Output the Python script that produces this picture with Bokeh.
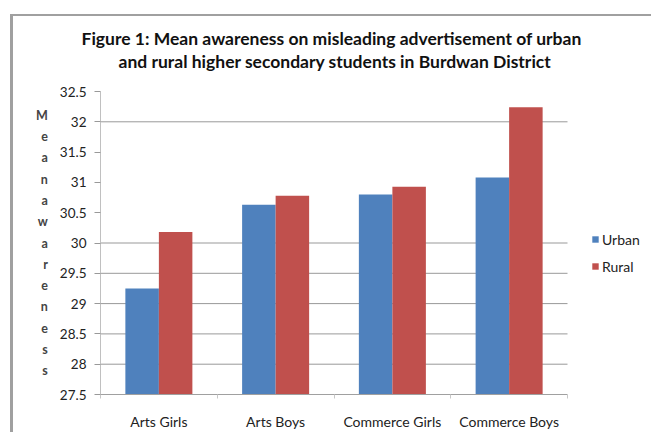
from bokeh.plotting import figure
from bokeh.models import ColumnDataSource, Range1d, FixedTicker, Legend, LegendItem, Title
from bokeh.embed import file_html
from bokeh.resources import INLINE

categories = ["Arts Girls", "Arts Boys", "Commerce Girls", "Commerce Boys"]
urban = [29.25, 30.63, 30.80, 31.08]
rural = [30.18, 30.78, 30.93, 32.24]
y_ticks = [27.5, 28, 28.5, 29, 29.5, 30, 30.5, 31, 31.5, 32, 32.5]
y_tick_labels = ["27.5", "28", "28.5", "29", "29.5", "30", "30.5", "31", "31.5", "32", "32.5"]
grid_ticks = [28, 28.5, 29, 29.5, 30, 32]
title_lines = ["Figure 1: Mean awareness on misleading advertisement of urban",
               "and rural higher secondary students in Burdwan District"]
y_label = "Meanawareness"

FONT = "Lato"
BLUE = "#4F81BD"
RED = "#C0504D"
BAR_W = 0.287
N = len(categories)
centers = [i + 0.5 for i in range(N)]

src = ColumnDataSource(dict(
    xu=[c - BAR_W / 2 for c in centers], xr=[c + BAR_W / 2 for c in centers],
    urban=urban, rural=rural, base=[y_ticks[0]] * N))

W, H = 651, 432
ML, MR, MB, MT = 100, 0, 34, 91
# the plot area runs on past the last category to hold the legend (as in the original chart)
x_end = N + (W - 567) / ((567 - ML) / N)
p = figure(width=W, height=H, x_range=Range1d(0, x_end),
           y_range=Range1d(y_ticks[0], y_ticks[-1]), output_backend="svg", toolbar_location=None,
           min_border_left=ML, min_border_right=MR, min_border_bottom=MB, min_border_top=MT)
p.border_fill_alpha = 0
p.background_fill_color = "white"
p.styles = {"box-shadow": "inset 10px 14px 0 0 #ffffff, inset 13px 16px 0 0 #a0a0a0"}
p.outline_line_color = None

# gridlines (only over the category area)
p.segment(x0=[0] * len(grid_ticks), x1=[N] * len(grid_ticks), y0=grid_ticks, y1=grid_ticks,
          line_color="#999999", line_width=1)

r1 = p.vbar(x="xu", top="urban", bottom="base", width=BAR_W, source=src,
            fill_color=BLUE, line_color=None)
r2 = p.vbar(x="xr", top="rural", bottom="base", width=BAR_W, source=src,
            fill_color=RED, line_color=None)

# titles (a blank spacer keeps the second line clear of the plot area)
p.title.text = title_lines[0]
p.title.align = "left"
p.title.offset = -19
p.title.text_font = FONT
p.title.text_font_size = "17.5px"
p.title.text_font_style = "bold"
p.title.text_color = "#111111"
p.title.standoff = 0
spacer = Title(text=" ", text_font_size="10px", standoff=7)
p.add_layout(spacer, "above")
t2 = Title(text=title_lines[1], align="left", offset=18, text_font=FONT, text_font_size="17.5px",
           text_font_style="bold", text_color="#111111", standoff=0)
p.add_layout(t2, "above")

# y axis
yax = p.yaxis[0]
yax.ticker = FixedTicker(ticks=y_ticks)
yax.major_label_overrides = {t: l for t, l in zip(y_ticks, y_tick_labels)}
yax.major_label_text_font = FONT
yax.major_label_text_font_size = "13.5px"
yax.major_label_text_color = "#222222"
yax.major_tick_out = 6
yax.major_tick_in = 0
yax.minor_tick_out = 0
yax.minor_tick_in = 0
yax.major_tick_line_color = "#999999"
yax.axis_line_color = "#c0c0c0"
yax.major_label_standoff = 8
yax.axis_label = "\n".join(list(y_label))
yax.axis_label_orientation = "horizontal"
yax.axis_label_text_font = FONT
yax.axis_label_text_font_size = "12.5px"
yax.axis_label_text_font_style = "bold"
yax.axis_label_text_line_height = 1.42
yax.axis_label_standoff = 9

# x axis
xax = p.xaxis[0]
xax.ticker = FixedTicker(ticks=centers, minor_ticks=list(range(N + 1)))
xax.major_label_overrides = {c: l for c, l in zip(centers, categories)}
xax.bounds = (0, N)
xax.major_label_text_font = FONT
xax.major_label_text_font_size = "14px"
xax.major_label_text_color = "#222222"
xax.major_tick_out = 0
xax.major_tick_in = 0
xax.minor_tick_out = 4
xax.minor_tick_in = 0
xax.minor_tick_line_color = "#c8c8c8"
xax.axis_line_color = "#a0a0a0"
xax.major_label_standoff = 14

p.xgrid.grid_line_color = None
p.ygrid.grid_line_color = None

legend = Legend(items=[LegendItem(label="Urban", renderers=[r1]),
                       LegendItem(label="Rural", renderers=[r2])],
                location=(491, 118), glyph_width=8, glyph_height=8, label_standoff=3, spacing=7,
                padding=0, margin=0, border_line_color=None, background_fill_alpha=0,
                label_text_font=FONT, label_text_font_size="14px", label_text_color="#222222",
                label_height=20)
p.add_layout(legend, "center")

open("out.html", "w").write(file_html(p, INLINE))
